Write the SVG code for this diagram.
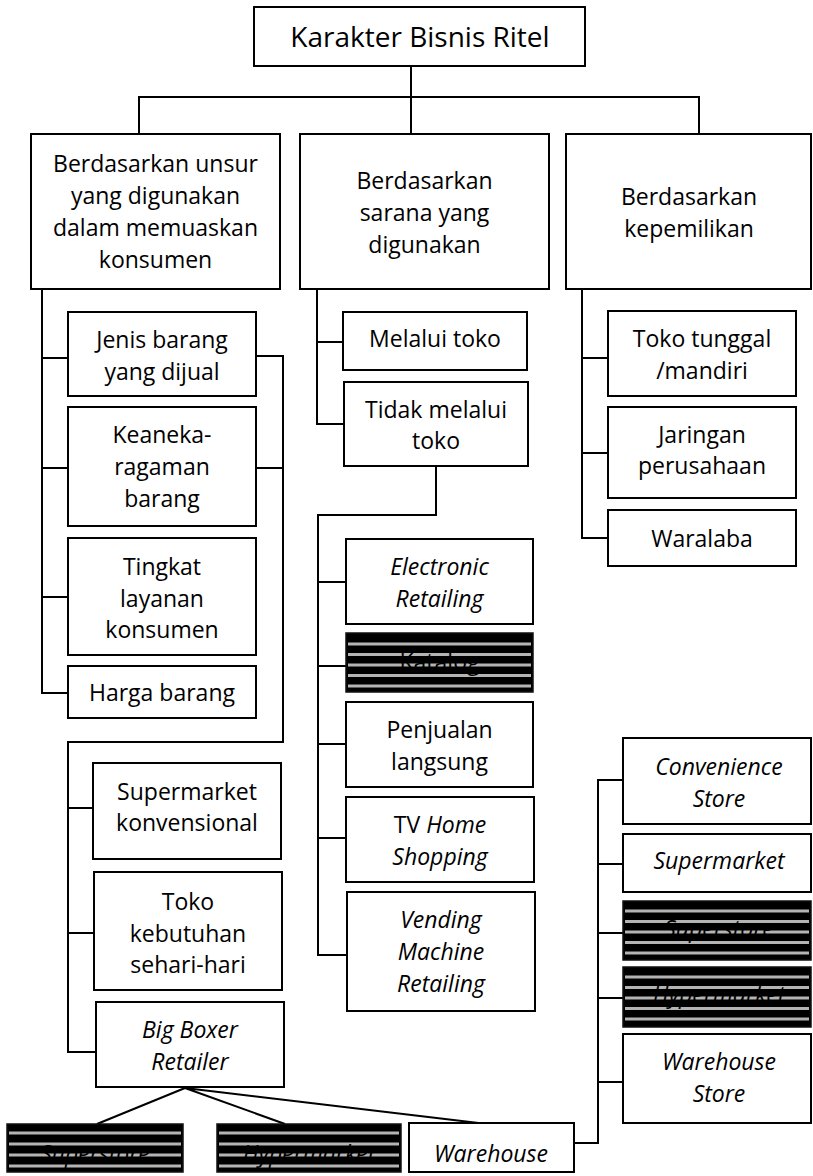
<svg xmlns="http://www.w3.org/2000/svg" width="813" height="1176" viewBox="0 0 813 1176">
  <style>
    .box { fill: #fff; stroke: #000; stroke-width: 2; }
    .dark { fill: #000; stroke: #111; stroke-width: 1.5; }
    .stripe { stroke: #b4b4b4; stroke-width: 3; }
    .t { font-family: "Open Sans", "Liberation Sans", sans-serif; font-size: 23px; fill: #000; text-anchor: middle; }
    .big { font-size: 28px; }
    .i { font-style: italic; }
    .conn { fill: none; stroke: #000; stroke-width: 2; }
  </style>
  <rect width="813" height="1176" fill="#fff"/>

  <!-- connectors -->
  <g id="connectors" class="conn">
    <path d="M411 66 V97 M139 134 V97 H699 V134 M411 97 V134"/>
    <!-- column A -->
    <path d="M42 289 V693 H68 M42 358 H68 M42 468 H68 M42 597 H68"/>
    <path d="M256 356 H283 V742 H68 V1052 H96 M256 468 H283 M68 808 H93 M68 933 H94"/>
    <path d="M185 1088 L97 1124 M185 1088 L285 1124 M185 1088 L487 1124"/>
    <path d="M574 1143 H598 V780 H623 M598 864 H623 M598 933 H623 M598 998 H623 M598 1082 H623"/>
    <!-- column B -->
    <path d="M317 289 V424 H344 M317 342 H343"/>
    <path d="M436 466 V515 H318 V955 H347 M318 582 H346 M318 666 H346 M318 744 H346 M318 838 H346"/>
    <!-- column C -->
    <path d="M582 289 V538 H608 M582 358 H608 M582 453 H608"/>
  </g>

  <!-- root -->
  <g id="root">
    <rect class="box" x="254" y="7" width="331" height="59"/>
    <text class="t big" x="420" y="47">Karakter Bisnis Ritel</text>
  </g>

  <!-- level 2 -->
  <g id="unsur">
    <rect class="box" x="31" y="134" width="249" height="155"/>
    <text class="t" x="155.5" y="172">Berdasarkan unsur</text>
    <text class="t" x="155.5" y="204">yang digunakan</text>
    <text class="t" x="155.5" y="236">dalam memuaskan</text>
    <text class="t" x="155.5" y="268">konsumen</text>
  </g>
  <g id="sarana">
    <rect class="box" x="300" y="134" width="249" height="155"/>
    <text class="t" x="424.5" y="189">Berdasarkan</text>
    <text class="t" x="424.5" y="221">sarana yang</text>
    <text class="t" x="424.5" y="253">digunakan</text>
  </g>
  <g id="kepemilikan">
    <rect class="box" x="566" y="134" width="245" height="155"/>
    <text class="t" x="689" y="205">Berdasarkan</text>
    <text class="t" x="689" y="237">kepemilikan</text>
  </g>

  <!-- column A children -->
  <g id="jenis">
    <rect class="box" x="68" y="312" width="188" height="84"/>
    <text class="t" x="162" y="348">Jenis barang</text>
    <text class="t" x="162" y="380">yang dijual</text>
  </g>
  <g id="keaneka">
    <rect class="box" x="68" y="407" width="188" height="119"/>
    <text class="t" x="162" y="443">Keaneka-</text>
    <text class="t" x="162" y="475">ragaman</text>
    <text class="t" x="162" y="507">barang</text>
  </g>
  <g id="tingkat">
    <rect class="box" x="68" y="538" width="188" height="117"/>
    <text class="t" x="162" y="575">Tingkat</text>
    <text class="t" x="162" y="607">layanan</text>
    <text class="t" x="162" y="638">konsumen</text>
  </g>
  <g id="harga">
    <rect class="box" x="68" y="666" width="188" height="52"/>
    <text class="t" x="162" y="701">Harga barang</text>
  </g>

  <g id="supermarket-konv">
    <rect class="box" x="93" y="763" width="188" height="96"/>
    <text class="t" x="187" y="800">Supermarket</text>
    <text class="t" x="187" y="831">konvensional</text>
  </g>
  <g id="toko-kebutuhan">
    <rect class="box" x="94" y="872" width="188" height="118"/>
    <text class="t" x="188" y="910">Toko</text>
    <text class="t" x="188" y="942">kebutuhan</text>
    <text class="t" x="188" y="973">sehari-hari</text>
  </g>
  <g id="big-boxer">
    <rect class="box" x="96" y="1002" width="188" height="85"/>
    <text class="t i" x="190" y="1038">Big Boxer</text>
    <text class="t i" x="190" y="1070">Retailer</text>
  </g>

  <!-- bottom row -->
  <g id="superstore-bottom">
    <rect class="dark" x="7" y="1124" width="176" height="48"/>
    <g class="stripe">
      <line x1="9" y1="1133" x2="181" y2="1133"/>
      <line x1="9" y1="1144" x2="181" y2="1144"/>
      <line x1="9" y1="1155" x2="181" y2="1155"/>
      <line x1="9" y1="1166" x2="181" y2="1166"/>
    </g>
    <text class="t i" x="95" y="1162">Superstore</text>
  </g>
  <g id="hypermarket-bottom">
    <rect class="dark" x="217" y="1124" width="184" height="48"/>
    <g class="stripe">
      <line x1="219" y1="1133" x2="399" y2="1133"/>
      <line x1="219" y1="1144" x2="399" y2="1144"/>
      <line x1="219" y1="1155" x2="399" y2="1155"/>
      <line x1="219" y1="1166" x2="399" y2="1166"/>
    </g>
    <text class="t i" x="309" y="1162">Hypermarket</text>
  </g>
  <g id="warehouse-bottom">
    <rect class="box" x="409" y="1123" width="165" height="49"/>
    <text class="t i" x="491" y="1162">Warehouse</text>
  </g>

  <!-- column B children -->
  <g id="melalui">
    <rect class="box" x="343" y="312" width="184" height="58"/>
    <text class="t" x="435" y="347">Melalui toko</text>
  </g>
  <g id="tidak-melalui">
    <rect class="box" x="344" y="382" width="184" height="84"/>
    <text class="t" x="436" y="418">Tidak melalui</text>
    <text class="t" x="436" y="449">toko</text>
  </g>
  <g id="electronic">
    <rect class="box" x="346" y="539" width="187" height="85"/>
    <text class="t i" x="439.5" y="575">Electronic</text>
    <text class="t i" x="439.5" y="607">Retailing</text>
  </g>
  <g id="katalog">
    <rect class="dark" x="346" y="633" width="187" height="59"/>
    <g class="stripe">
      <line x1="348" y1="644" x2="531" y2="644"/>
      <line x1="348" y1="654.5" x2="531" y2="654.5"/>
      <line x1="348" y1="665" x2="531" y2="665"/>
      <line x1="348" y1="675.5" x2="531" y2="675.5"/>
      <line x1="348" y1="686" x2="531" y2="686"/>
    </g>
    <text class="t" x="439.5" y="670">Katalog</text>
  </g>
  <g id="penjualan">
    <rect class="box" x="346" y="702" width="187" height="85"/>
    <text class="t" x="439.5" y="738">Penjualan</text>
    <text class="t" x="439.5" y="770">langsung</text>
  </g>
  <g id="tv-home">
    <rect class="box" x="346" y="797" width="188" height="85"/>
    <text class="t" x="440" y="833">TV <tspan class="i">Home</tspan></text>
    <text class="t i" x="440" y="865">Shopping</text>
  </g>
  <g id="vending">
    <rect class="box" x="347" y="892" width="188" height="119"/>
    <text class="t i" x="441" y="928">Vending</text>
    <text class="t i" x="441" y="960">Machine</text>
    <text class="t i" x="441" y="992">Retailing</text>
  </g>

  <!-- column C children -->
  <g id="toko-tunggal">
    <rect class="box" x="608" y="311" width="188" height="85"/>
    <text class="t" x="702" y="347">Toko tunggal</text>
    <text class="t" x="702" y="379">/mandiri</text>
  </g>
  <g id="jaringan">
    <rect class="box" x="608" y="407" width="188" height="91"/>
    <text class="t" x="702" y="443">Jaringan</text>
    <text class="t" x="702" y="474">perusahaan</text>
  </g>
  <g id="waralaba">
    <rect class="box" x="608" y="510" width="188" height="56"/>
    <text class="t" x="702" y="547">Waralaba</text>
  </g>

  <!-- right column -->
  <g id="convenience">
    <rect class="box" x="623" y="738" width="188" height="86"/>
    <text class="t i" x="719" y="775">Convenience</text>
    <text class="t i" x="719" y="807">Store</text>
  </g>
  <g id="supermarket">
    <rect class="box" x="623" y="834" width="188" height="58"/>
    <text class="t i" x="719" y="869">Supermarket</text>
  </g>
  <g id="superstore">
    <rect class="dark" x="623" y="901" width="188" height="59"/>
    <g class="stripe">
      <line x1="625" y1="911" x2="809" y2="911"/>
      <line x1="625" y1="921.5" x2="809" y2="921.5"/>
      <line x1="625" y1="932" x2="809" y2="932"/>
      <line x1="625" y1="942.5" x2="809" y2="942.5"/>
      <line x1="625" y1="953" x2="809" y2="953"/>
    </g>
    <text class="t i" x="719" y="937">Superstore</text>
  </g>
  <g id="hypermarket">
    <rect class="dark" x="623" y="967" width="188" height="60"/>
    <g class="stripe">
      <line x1="625" y1="977" x2="809" y2="977"/>
      <line x1="625" y1="987.5" x2="809" y2="987.5"/>
      <line x1="625" y1="998" x2="809" y2="998"/>
      <line x1="625" y1="1008.5" x2="809" y2="1008.5"/>
      <line x1="625" y1="1019" x2="809" y2="1019"/>
    </g>
    <text class="t i" x="719" y="1003">Hypermarket</text>
  </g>
  <g id="warehouse-store">
    <rect class="box" x="623" y="1034" width="188" height="89"/>
    <text class="t i" x="719" y="1070">Warehouse</text>
    <text class="t i" x="719" y="1102">Store</text>
  </g>
</svg>
